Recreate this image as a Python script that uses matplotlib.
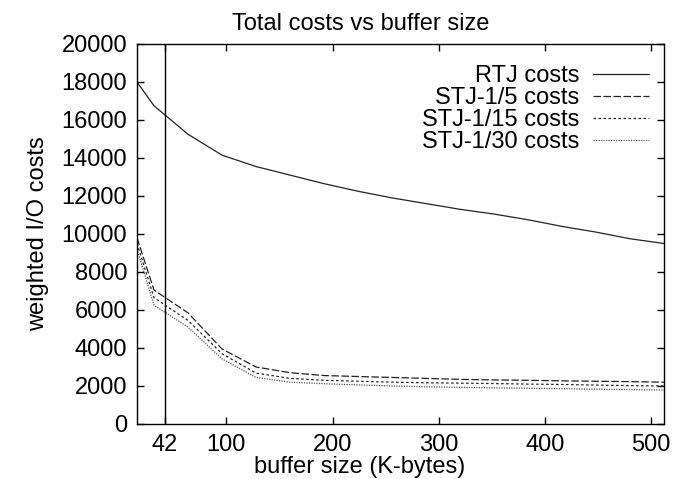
import matplotlib.pyplot as plt

plt.rcParams['font.family'] = ['Liberation Sans', 'DejaVu Sans']

buffer_kb = [16, 32, 64, 96, 128, 160, 192, 224, 256, 288, 320, 352, 384, 416, 448, 480, 512]
rtj = [18000, 16750, 15250, 14150, 13550, 13100, 12650, 12250, 11900, 11600, 11300,
       11050, 10750, 10400, 10100, 9750, 9500]
stj_5 = [9800, 7050, 5850, 3950, 3000, 2700, 2550, 2500, 2450, 2400, 2350,
         2320, 2300, 2270, 2250, 2230, 2200]
stj_15 = [9500, 6650, 5450, 3700, 2680, 2400, 2300, 2250, 2200, 2170, 2150,
          2130, 2100, 2080, 2050, 2020, 2000]
stj_30 = [9200, 6250, 5100, 3430, 2450, 2200, 2120, 2060, 2000, 1960, 1930,
          1900, 1880, 1860, 1830, 1810, 1790]
marker_x = 42
x_ticks = [42, 100, 200, 300, 400, 500]
y_ticks = list(range(0, 20001, 2000))

fs = 17

fig = plt.figure(figsize=(6.74, 4.79), dpi=100)
ax = fig.add_axes([137 / 674, 1 - 424 / 479, 527 / 674, 380 / 479])

lw = 0.9
ax.plot(buffer_kb, rtj, color='#222222', linewidth=lw, label='RTJ costs')
ax.plot(buffer_kb, stj_5, color='#222222', linewidth=lw, linestyle=(0, (6, 2)), label='STJ-1/5 costs')
ax.plot(buffer_kb, stj_15, color='#222222', linewidth=lw, linestyle=(0, (2, 2)), label='STJ-1/15 costs')
ax.plot(buffer_kb, stj_30, color='#555555', linewidth=lw, linestyle=(0, (1, 1)), label='STJ-1/30 costs')
ax.axvline(marker_x, color='black', linewidth=1.0)

ax.set_xlim(16, 512)
ax.set_ylim(0, 20000)
ax.set_xticks(x_ticks)
ax.set_yticks(y_ticks)
ax.tick_params(direction='in', length=5, width=1, top=True, right=True,
               labelsize=fs)
ax.tick_params(axis='y', pad=7)
ax.tick_params(axis='x', pad=7)
for s in ax.spines.values():
    s.set_linewidth(1.0)

ax.set_title('Total costs vs buffer size', fontsize=fs, x=0.425, pad=10)
ax.set_xlabel('buffer size (K-bytes)', fontsize=fs, x=0.423, labelpad=0)
ax.set_ylabel('weighted I/O costs', fontsize=fs, labelpad=9)

ax.legend(loc='upper right', frameon=False, markerfirst=False, fontsize=fs,
          handlelength=2.4, handletextpad=0.55, labelspacing=0.0,
          bbox_to_anchor=(0.99, 0.97), borderaxespad=0)

fig.savefig('out.png', dpi=100)
